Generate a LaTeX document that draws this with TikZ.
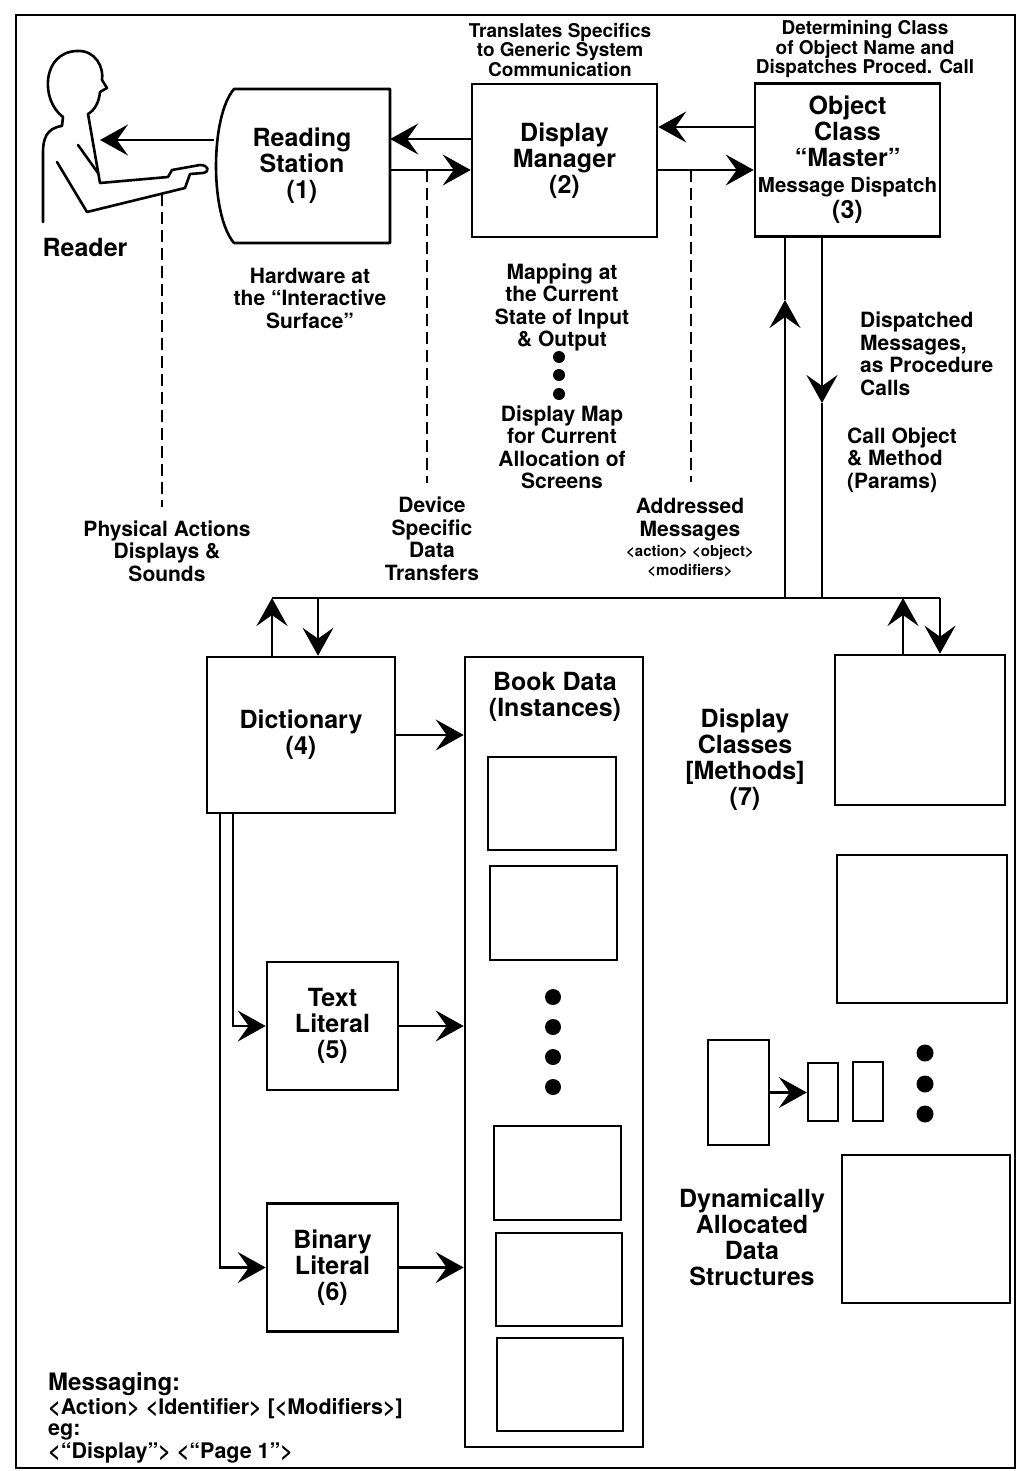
\documentclass[tikz,border=0pt]{standalone}
\usepackage{fontspec}
\setmainfont{TeX Gyre Heros}
\usetikzlibrary{arrows.meta}
\newcommand\fbig{\fontsize{25}{26}\selectfont\bfseries}
\newcommand\fmed{\fontsize{21}{22.5}\selectfont\bfseries}
\newcommand\fsml{\fontsize{19}{17.5}\selectfont\bfseries}
\newcommand\ftny{\fontsize{15}{19}\selectfont\bfseries}
\begin{document}
\begin{tikzpicture}[x=1pt,y=-1pt,
  box/.style={draw,line width=2.6pt,inner sep=0pt,align=center,font=\fbig},
  ibox/.style={draw,line width=2.3pt,inner sep=0pt},
  conn/.style={line width=2.5pt},
  arr/.style={conn,-{Stealth[length=28pt,width=31pt,inset=11pt]}},
  dashln/.style={line width=2.2pt,dash pattern=on 12pt off 6pt},
  lbl/.style={align=center,inner sep=0pt},
  bigdot/.style={circle,fill,inner sep=0pt,minimum size=16pt}]
\useasboundingbox (0,0) rectangle (1020,1471);
\draw[line width=2.4pt] (16,15) rectangle (1015,1468);

% reader figure
\draw[line width=2.6pt,line join=round,line cap=round]
  (63,117) .. controls (40,100) and (42,52) .. (77,51)
  .. controls (96,50) and (104,68) .. (102,80) -- (107,88) -- (100,92)
  .. controls (99,102) and (95,110) .. (88,114) -- (100,183) -- (168,177)
  -- (172,170) -- (200,165) .. controls (209,165) and (210,172) .. (203,173)
  -- (190,174) -- (185,188) -- (87,212) -- (57,162);
\draw[line width=2.6pt,line join=round,line cap=round]
  (63,117) -- (62,126) .. controls (46,128) and (43,140) .. (43,152) -- (43,222);
\draw[line width=2.6pt,line cap=round] (78,145) -- (98,173);
\node[lbl,font=\fbig] (reader) at (85,247) {Reader};
\coordinate (chest) at (100,140);

% reading station
\draw[line width=2.6pt,line join=round] (234,243) .. controls (210,215) and (210,117) .. (234,89)
  -- (390,89) -- (390,243) -- cycle;
\node[lbl,font=\fbig,minimum width=176pt,minimum height=153pt] (rs) at (302,166) {Reading\\Station\\(1)};

% display manager and object class
\node[box,minimum width=185pt,minimum height=153pt] (dm) at (564.5,160.5) {Display\\Manager\\(2)};
\node[box,minimum width=185pt,minimum height=153pt] (oc) at (847.5,160)
  {Object\\Class\\“Master”\\{\fontsize{20.5}{26}\selectfont Message Dispatch}\\(3)};

\node[lbl,font=\fsml] (tdm) at (560,50) {Translates Specifics\\to Generic System\\Communication};
\node[lbl,font=\fsml] (toc) at (865,49) {Determining Class\\of Object Name and\\Dispatches Proced. Call};

% top arrows
\draw[arr] ([yshift=26pt]rs.west) -- (chest);
\draw[arr] ([yshift=21.5pt]dm.west) -- ([yshift=21.5pt]dm.west -| rs.east);
\draw[arr] ([yshift=-4pt]rs.east) -- ([yshift=-4pt]rs.east -| dm.west);
\draw[arr] ([yshift=33pt]oc.west) -- ([yshift=33pt]oc.west -| dm.east);
\draw[arr] ([yshift=-9.5pt]dm.east) -- ([yshift=-9.5pt]dm.east -| oc.west);

% dashed lines
\coordinate (dA1) at (162,194); \coordinate (dA2) at (162,507);
\coordinate (dB1) at (427,170); \coordinate (dB2) at (427,483);
\coordinate (dC1) at (691,170); \coordinate (dC2) at (691,482);
\draw[dashln] (dA1) -- (dA2);
\draw[dashln] (dB1) -- (dB2);
\draw[dashln] (dC1) -- (dC2);

% labels in the middle band
\node[lbl,font=\fmed] (hw) at (310,298) {Hardware at\\the “Interactive\\Surface”};
\node[lbl,font=\fmed] (map) at (562,307.5) {Mapping at\\the Current\\State of Input\\\& Output};
\node[bigdot,minimum size=12pt] (m1) at (559,357) {};
\node[bigdot,minimum size=12pt] (m2) at (559,375) {};
\node[bigdot,minimum size=12pt] (m3) at (559,394) {};
\node[lbl,font=\fmed] (dmap) at (562,447.5) {Display Map\\for Current\\Allocation of\\Screens};
\node[lbl,font=\fmed] (phys) at (167,551) {Physical Actions\\Displays \&\\Sounds};
\node[lbl,font=\fmed] (dev) at (432,539) {Device\\Specific\\Data\\Transfers};
\node[lbl,font=\fmed] (addr) at (690,519.5) {Addressed\\Messages};
\node[lbl,font=\ftny] (addr2) at (690,561.5) {<action> <object>\\<modifiers>};
\node[lbl,font=\fmed,anchor=west,align=left] (disp) at (860,354) {Dispatched\\Messages,\\as Procedure\\Calls};
\node[lbl,font=\fmed,anchor=west,align=left] (call) at (847,460) {Call Object\\\& Method\\(Params)};

% verticals from object class to the bus
\coordinate (b1) at (785,598); \coordinate (up1) at (785,300);
\coordinate (b2) at (822,598); \coordinate (dn2) at (822,403);
\draw[arr] (b1) -- (up1);
\draw[conn] (up1) -- (oc.south -| up1);
\draw[arr] (oc.south -| b2) -- (dn2);
\draw[conn] (dn2) -- (b2);

% bus
\coordinate (busL) at (272,598);
\coordinate (busR) at (940,598);
\coordinate (bD) at (318,598);
\coordinate (bU) at (903,598);
\draw[conn] (busL) -- (busR);

% dictionary
\node[box,minimum width=188pt,minimum height=156pt] (dict) at (301,735) {Dictionary\\(4)};
\draw[arr] (dict.north -| busL) -- (busL);
\draw[arr] (bD) -- (bD |- dict.north);

% display classes
\node[box,minimum width=170pt,minimum height=150pt] (dcA) at (920,730) {};
\draw[arr] (bU |- dcA.north) -- (bU);
\draw[arr] (busR) -- (busR |- dcA.north);
\node[lbl,font=\fbig] (dcl) at (745,760) {Display\\Classes\\{[Methods]}\\(7)};
\node[box,minimum width=170pt,minimum height=148pt] (dcB) at (922,929) {};
\node[box,minimum width=168pt,minimum height=148pt] (dcC) at (926,1229) {};

% book data
\node[box,minimum width=178pt,minimum height=790pt] (bd) at (554,1052) {};
\node[lbl,font=\fbig] (bdl) at (555,697) {Book Data\\(Instances)};
\node[ibox,minimum width=128pt,minimum height=93pt] (ib1) at (552,803.5) {};
\node[ibox,minimum width=127pt,minimum height=94pt] (ib2) at (553.5,913) {};
\node[bigdot] (bd1) at (553,997) {};
\node[bigdot] (bd2) at (553,1027) {};
\node[bigdot] (bd3) at (553,1057) {};
\node[bigdot] (bd4) at (553,1087) {};
\node[ibox,minimum width=127pt,minimum height=94pt] (ib3) at (557.5,1173) {};
\node[ibox,minimum width=126pt,minimum height=93pt] (ib4) at (559,1279.5) {};
\node[ibox,minimum width=126pt,minimum height=93pt] (ib5) at (560,1384.5) {};
\draw[arr] (dict.east) -- (dict.east -| bd.west);

% literals
\node[box,minimum width=131pt,minimum height=128pt] (tl) at (332.5,1026) {Text\\Literal\\(5)};
\node[box,minimum width=131pt,minimum height=128pt] (bl) at (332.5,1267.5) {Binary\\Literal\\(6)};
\draw[arr] ([xshift=-68pt]dict.south) |- (tl.west);
\draw[arr] ([xshift=-81pt]dict.south) |- (bl.west);
\draw[arr] (tl.east) -- (tl.east -| bd.west);
\draw[arr] (bl.east) -- (bl.east -| bd.west);

% dynamically allocated structures
\node[ibox,minimum width=61pt,minimum height=105pt] (sA) at (738.5,1092.5) {};
\node[ibox,minimum width=30pt,minimum height=58pt] (s1) at (823,1092) {};
\node[ibox,minimum width=30pt,minimum height=59pt] (s2) at (868,1091.5) {};
\draw[arr] (sA.east) -- (sA.east -| s1.west);
\node[bigdot,minimum size=17pt] (sd1) at (925,1053) {};
\node[bigdot,minimum size=17pt] (sd2) at (925,1084) {};
\node[bigdot,minimum size=17pt] (sd3) at (925,1114) {};
\node[lbl,font=\fbig] (dyn) at (752,1237) {Dynamically\\Allocated\\Data\\Structures};

% messaging legend
\node[lbl,anchor=west,font=\fontsize{24}{26}\selectfont\bfseries] (msg1) at (48,1384) {Messaging:};
\node[lbl,anchor=west,font=\fontsize{21.5}{22}\selectfont\bfseries] (msg2) at (48,1409) {<Action> <Identifier> [<Modifiers>]};
\node[lbl,anchor=west,font=\fontsize{21.5}{22}\selectfont\bfseries] (msg3) at (48,1432) {eg:};
\node[lbl,anchor=west,font=\fontsize{21.5}{22}\selectfont\bfseries] (msg4) at (48,1453) {<“Display”> <“Page 1”>};
\end{tikzpicture}
\end{document}
